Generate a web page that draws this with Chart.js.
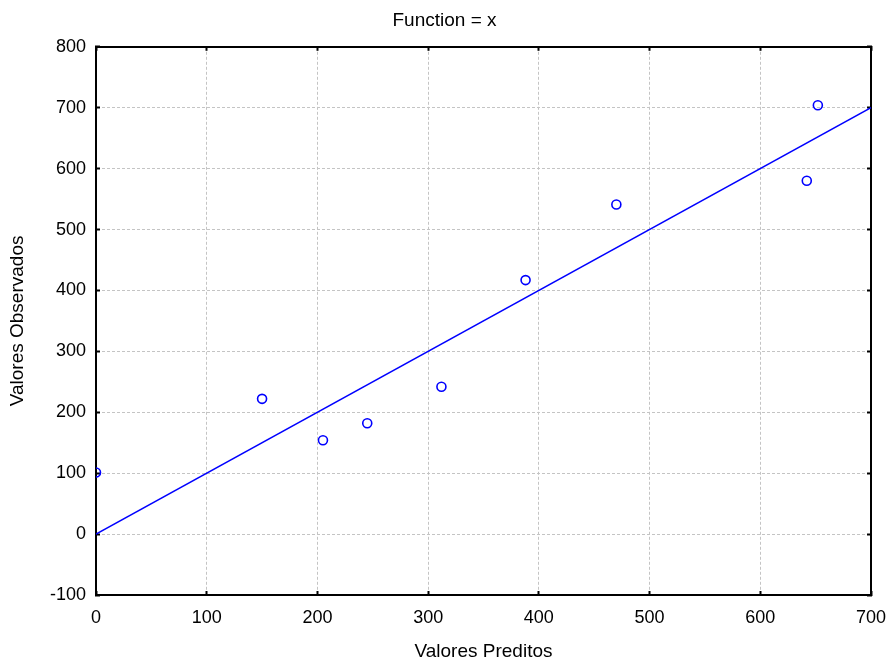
<!DOCTYPE html>
<html lang="en">
<head>
    <meta charset="UTF-8">
    <title>Function = x</title>
    <style>
        body {
            margin: 0;
            padding: 0;
            background-color: #fff;
        }
        .chart-box {
            width: 889px;
            height: 663px;
        }
    </style>
    <script src="https://cdn.jsdelivr.net/npm/chart.js"></script>
</head>
<body>

    <div class="chart-box">
        <canvas id="fitChart"></canvas>
    </div>

    <script>
        // Data
        const predicted = [0, 150, 205, 245, 312, 388, 470, 642, 652];
        const observed = [101, 222, 154, 182, 242, 417, 541, 580, 704];
        const fitX = [0, 700];
        const fitY = [0, 700];
        const xTicks = [0, 100, 200, 300, 400, 500, 600, 700];
        const yTicks = [-100, 0, 100, 200, 300, 400, 500, 600, 700, 800];

        const tickFont = { family: 'Liberation Sans, Arial, sans-serif', size: 18 };
        const titleFont = { family: 'Liberation Sans, Arial, sans-serif', size: 19 };

        const gridOpts = {
            color: '#c4c4c4',
            lineWidth: 1,
            tickColor: '#000',
            tickWidth: 2,
            tickLength: -4,
            tickBorderDash: []
        };
        const borderOpts = { display: true, color: '#000', width: 2, dash: [3, 2] };

        // keep the plot box where the picture has it
        function fitHorizontal(h) {
            return s => { s.height = h; s.paddingLeft = 0; s.paddingRight = 0; };
        }
        function fitVertical(w) {
            return s => { s.width = w; s.paddingTop = 0; s.paddingBottom = 0; };
        }

        const ctx = document.getElementById('fitChart').getContext('2d');

        new Chart(ctx, {
            type: 'scatter',
            data: {
                datasets: [{
                    label: 'Observados',
                    data: predicted.map((x, i) => ({ x: x, y: observed[i] })),
                    pointStyle: 'circle',
                    pointRadius: 4.5,
                    pointBorderWidth: 1.6,
                    pointBorderColor: '#0000ff',
                    pointBackgroundColor: 'rgba(0,0,0,0)',
                    clip: 0
                }, {
                    type: 'line',
                    label: 'Function = x',
                    data: fitX.map((x, i) => ({ x: x, y: fitY[i] })),
                    borderColor: '#0000ff',
                    borderWidth: 1.6,
                    pointRadius: 0,
                    fill: false,
                    clip: 0
                }]
            },
            options: {
                responsive: true,
                maintainAspectRatio: false,
                animation: false,
                layout: { padding: 0 },
                plugins: {
                    legend: { display: false },
                    tooltip: { enabled: false },
                    title: {
                        display: true,
                        text: 'Function = x',
                        color: '#000',
                        font: { family: titleFont.family, size: 19, weight: 'normal' },
                        padding: { top: 9, bottom: 15 }
                    }
                },
                scales: {
                    x: {
                        type: 'linear',
                        position: 'bottom',
                        min: 0,
                        max: 700,
                        afterBuildTicks: s => { s.ticks = xTicks.map(v => ({ value: v })); },
                        afterFit: fitHorizontal(68),
                        ticks: { color: '#000', font: tickFont, padding: 16, autoSkip: false, maxRotation: 0 },
                        grid: gridOpts,
                        border: borderOpts,
                        title: {
                            display: true,
                            text: 'Valores Preditos',
                            color: '#000',
                            font: titleFont,
                            padding: { top: 0, bottom: 0 }
                        }
                    },
                    y: {
                        type: 'linear',
                        position: 'left',
                        min: -100,
                        max: 800,
                        afterBuildTicks: s => { s.ticks = yTicks.map(v => ({ value: v })); },
                        afterFit: fitVertical(96),
                        ticks: { color: '#000', font: tickFont, padding: 14, autoSkip: false },
                        grid: gridOpts,
                        border: borderOpts,
                        title: {
                            display: true,
                            text: 'Valores Observados',
                            color: '#000',
                            font: titleFont,
                            padding: { top: 6, bottom: 0 }
                        }
                    },
                    x2: {
                        type: 'linear',
                        position: 'top',
                        min: 0,
                        max: 700,
                        afterBuildTicks: s => { s.ticks = xTicks.map(v => ({ value: v })); },
                        afterFit: fitHorizontal(0),
                        ticks: { display: false },
                        grid: Object.assign({}, gridOpts, { drawOnChartArea: false }),
                        border: borderOpts
                    },
                    y2: {
                        type: 'linear',
                        position: 'right',
                        min: -100,
                        max: 800,
                        afterBuildTicks: s => { s.ticks = yTicks.map(v => ({ value: v })); },
                        afterFit: fitVertical(18),
                        ticks: { display: false },
                        grid: Object.assign({}, gridOpts, { drawOnChartArea: false }),
                        border: borderOpts
                    }
                }
            }
        });
    </script>
</body>
</html>
